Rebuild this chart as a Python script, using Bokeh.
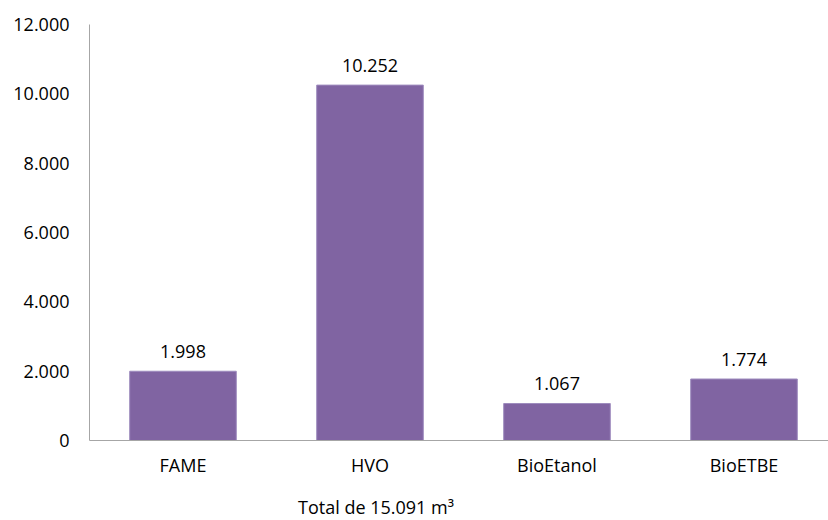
from bokeh.plotting import figure
from bokeh.models import Range1d, FixedTicker, ColumnDataSource, Div
from bokeh.layouts import column
from bokeh.core.properties import value
from bokeh.embed import file_html
from bokeh.resources import INLINE

categories = ["FAME", "HVO", "BioEtanol", "BioETBE"]
values = [1998, 10252, 1067, 1774]
value_labels = ["1.998", "10.252", "1.067", "1.774"]
y_ticks = [0, 2000, 4000, 6000, 8000, 10000, 12000]
y_tick_labels = ["0", "2.000", "4.000", "6.000", "8.000", "10.000", "12.000"]
total_label = "Total de 15.091 m\u00b3"

FONT = "Open Sans"
FS = "18px"
W, H = 828, 480
LEFT, TOP, BOTTOM = 89, 24, 40
STEP = 187.0
xpos = [i + 0.5 for i in range(len(categories))]

p = figure(width=W, height=H, output_backend="svg", toolbar_location=None,
           x_range=Range1d(0, (W - LEFT) / STEP), y_range=Range1d(0, 12000),
           min_border_left=LEFT, min_border_right=0, min_border_top=TOP,
           min_border_bottom=BOTTOM)
p.outline_line_color = None
p.grid.visible = False
p.background_fill_color = "white"

src = ColumnDataSource(dict(x=xpos, top=values, lab=value_labels, cat=categories))
p.vbar(x="x", top="top", width=0.57, bottom=0, source=src,
       fill_color="#8064A2", line_color="#9E8CBE", line_width=1)
p.text(x="x", y="top", text="lab", source=src, text_align="center",
       text_baseline="middle", y_offset=-20, text_font=value(FONT),
       text_font_size=FS, text_color="#000000")

for ax in (p.xaxis[0], p.yaxis[0]):
    ax.axis_line_color = "#A6A6A6"
    ax.axis_line_width = 1
    ax.major_tick_line_color = None
    ax.minor_tick_line_color = None
    ax.major_label_text_font = FONT
    ax.major_label_text_font_size = FS
    ax.major_label_text_color = "#000000"

p.yaxis[0].ticker = FixedTicker(ticks=y_ticks)
p.yaxis[0].major_label_overrides = {t: l for t, l in zip(y_ticks, y_tick_labels)}
p.yaxis[0].major_label_standoff = 14
p.xaxis[0].ticker = FixedTicker(ticks=xpos)
p.xaxis[0].major_label_overrides = {x: c for x, c in zip(xpos, categories)}
p.xaxis[0].major_label_standoff = 6

total = Div(text=total_label, width=W, height=40,
            styles={"font-family": FONT, "font-size": FS, "color": "#000000",
                    "line-height": "24px", "padding-left": "293px",
                    "padding-top": "10px", "box-sizing": "border-box"})

layout = column(p, total, spacing=0)
open("out.html", "w").write(file_html(layout, INLINE))
